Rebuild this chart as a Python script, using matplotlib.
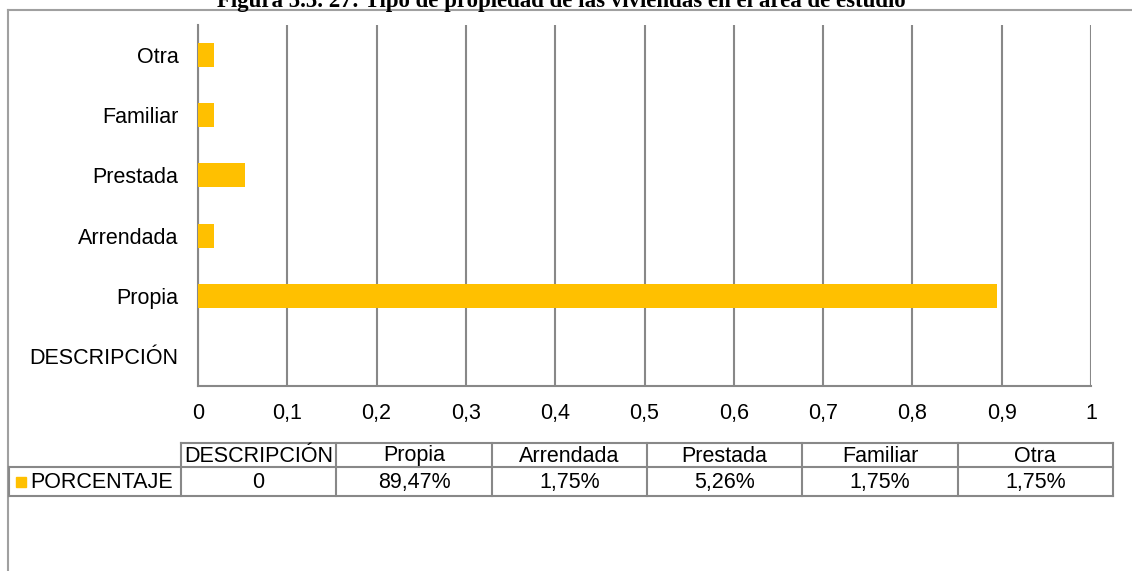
import matplotlib
matplotlib.use('Agg')
import matplotlib.pyplot as plt
from matplotlib.lines import Line2D
from matplotlib.patches import Rectangle

plt.rcParams['font.family'] = ['Liberation Sans', 'DejaVu Sans']

# data
categorias = ['DESCRIPCIÓN', 'Propia', 'Arrendada', 'Prestada', 'Familiar', 'Otra']
porcentaje = [0, 0.8947, 0.0175, 0.0526, 0.0175, 0.0175]
tabla_valores = ['0', '89,47%', '1,75%', '5,26%', '1,75%', '1,75%']
x_ticks = [0, 0.1, 0.2, 0.3, 0.4, 0.5, 0.6, 0.7, 0.8, 0.9, 1]
serie = 'PORCENTAJE'
titulo = 'Figura 5.5. 27: Tipo de propiedad de las viviendas en el área de estudio'

W, H = 1132, 571
amarillo = '#FFC000'
gris = '#888888'
fs = 15.5

fig = plt.figure(figsize=(W / 100, H / 100), dpi=100)


def fx(x):
    return x / W


def fy(y):
    return 1 - y / H


def linea(x0, y0, x1, y1, color=gris, lw=1.5):
    fig.add_artist(Line2D([fx(x0), fx(x1)], [fy(y0), fy(y1)], color=color,
                          lw=lw, transform=fig.transFigure))


# chart area
ax = fig.add_axes([fx(198), fy(386), fx(1091) - fx(198), fy(25) - fy(386)])
ax.barh(range(len(categorias)), porcentaje, height=0.4, color=amarillo, zorder=3)
ax.set_xlim(0, 1)
ax.set_ylim(-0.5, len(categorias) - 0.5)
ax.set_xticks(x_ticks)
ax.set_xticklabels([('%g' % t).replace('.', ',') for t in x_ticks], fontsize=fs)
ax.set_yticks(range(len(categorias)))
ax.set_yticklabels(categorias, fontsize=fs)
ax.tick_params(length=0, pad=14)
ax.tick_params(axis='x', pad=12)
ax.grid(axis='x', color=gris, lw=1.5, zorder=0)
for s in ['top', 'right']:
    ax.spines[s].set_visible(False)
for s in ['left', 'bottom']:
    ax.spines[s].set_color(gris)
    ax.spines[s].set_linewidth(1.5)

# outer border and clipped title
linea(8, 10, W, 10, color='#a0a0a0')
linea(8, 10, 8, H, color='#a0a0a0')
fig.text(fx(561), fy(7), titulo, ha='center', va='baseline', fontsize=16.5,
         fontweight='bold', family='Liberation Serif')

# data table under the chart
x_tab = 181
ancho = (1113 - x_tab) / len(categorias)
y_a, y_b, y_c = 443, 467, 496
linea(x_tab, y_a, 1113, y_a)
linea(9, y_b, 1113, y_b)
linea(9, y_c, 1113, y_c)
linea(9, y_b, 9, y_c)
for i in range(len(categorias) + 1):
    linea(x_tab + i * ancho, y_a, x_tab + i * ancho, y_c)
for i, (c, v) in enumerate(zip(categorias, tabla_valores)):
    xc = fx(x_tab + (i + 0.5) * ancho)
    fig.text(xc, fy((y_a + y_b) / 2 + 1), c, ha='center', va='center', fontsize=fs)
    fig.text(xc, fy((y_b + y_c) / 2 + 1), v, ha='center', va='center', fontsize=fs)
fig.add_artist(Rectangle((fx(16), fy(487)), fx(10), fy(477) - fy(487), color=amarillo,
                         transform=fig.transFigure))
fig.text(fx(30), fy((y_b + y_c) / 2 + 1), serie, ha='left', va='center', fontsize=fs)

fig.savefig('out.png', dpi=100)
